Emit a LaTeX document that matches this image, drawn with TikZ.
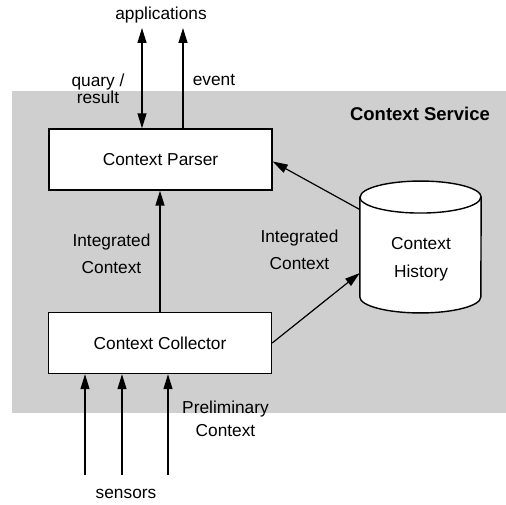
\documentclass[tikz,border=0pt]{standalone}
\usepackage{fontspec}
\setmainfont{Liberation Sans}
\usetikzlibrary{arrows.meta,calc}
\begin{document}
\begin{tikzpicture}[x=1pt,y=-1pt,
  every node/.style={font=\fontsize{17.3}{20}\selectfont, inner sep=0pt},
  box/.style={draw, line width=1.4pt, fill=white, minimum width=223, minimum height=61},
  flow/.style={line width=1.2pt, -{Triangle[length=15pt,width=9pt]}},
  twoway/.style={line width=1.2pt, {Triangle[length=15pt,width=9pt]}-{Triangle[length=15pt,width=9pt]}},
  label/.style={align=center}]
  \useasboundingbox (0,0) rectangle (506,505);
  % service area
  \fill[black!19] (12,91) rectangle (506,413);
  \node[font=\fontsize{18.5}{20}\selectfont\bfseries] (svc) at (420,114) {Context Service};

  % processing blocks
  \node[box] (parser) at (160.5,159.5) {Context Parser};
  \node[box] (coll) at (160,343) {Context Collector};

  % history store drawn as a cylinder around an invisible body node
  \node[minimum width=121, minimum height=99.5] (hist) at (420.5,247) {};
  \draw[line width=1.4pt, fill=white]
    (hist.north west) -- (hist.south west)
    arc[start angle=180, end angle=0, x radius=60.5, y radius=16]
    -- (hist.north east)
    arc[start angle=0, end angle=-180, x radius=60.5, y radius=16]
    -- cycle;
  \draw[line width=1.4pt] (hist.north west)
    arc[start angle=180, end angle=0, x radius=60.5, y radius=16];
  \node[label, font=\fontsize{17.3}{27.5}\selectfont] (histtxt) at (421,259.5) {Context\\History};

  % outer endpoints
  \node (apps) at (161,15) {applications};
  \node (sens) at (126,494) {sensors};
  \coordinate (qtop) at (142,28);
  \coordinate (etop) at (183,28);
  \coordinate (s1) at (85,475);
  \coordinate (s2) at (122,475);
  \coordinate (s3) at (168,475);
  \coordinate (mid) at (160,0);

  % connectors
  \draw[twoway] (qtop |- parser.north) -- (qtop);
  \draw[flow] (etop |- parser.north) -- (etop);
  \draw[flow] (mid |- coll.north) -- (mid |- parser.south);
  \draw[flow] ($(hist.north west)+(0,12.5)$) -- ($(parser.east)+(0,2)$);
  \draw[flow] (coll.east) -- ($(hist.west)+(0,26)$);
  \draw[flow] (s1) -- (s1 |- coll.south);
  \draw[flow] (s2) -- (s2 |- coll.south);
  \draw[flow] (s3) -- (s3 |- coll.south);

  % connector labels
  \node[label, font=\fontsize{17.3}{17}\selectfont] (qr) at (98,88.5) {quary /\\result};
  \node (ev) at (214,80) {event};
  \node[label, font=\fontsize{17.3}{27}\selectfont] (ic1) at (111.5,253.5) {Integrated\\Context};
  \node[label, font=\fontsize{17.3}{27}\selectfont] (ic2) at (299.5,249.5) {Integrated\\Context};
  \node[label, font=\fontsize{17.3}{23}\selectfont] (pc) at (225.5,418.5) {Preliminary\\Context};
\end{tikzpicture}
\end{document}
